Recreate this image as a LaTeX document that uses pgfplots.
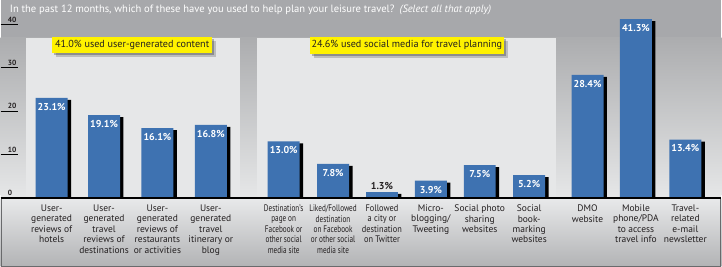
\documentclass[border=0pt]{standalone}
\usepackage{fontspec}
\setmainfont{PT Sans}
\newfontfamily\cndA{PT Sans}[FakeStretch=0.76]
\newfontfamily\cndB{PT Sans}[FakeStretch=0.88]
\usepackage{pgfplots}
\usepackage{pgfplotstable}
\pgfplotsset{compat=1.18}
\definecolor{barblue}{RGB}{62,114,177}
\definecolor{bgtop}{RGB}{167,168,171}
\definecolor{bgmid}{RGB}{172,173,175}
\definecolor{bgbot}{RGB}{229,230,231}
\definecolor{panel}{RGB}{230,231,232}
\definecolor{ylw}{RGB}{255,242,0}
\definecolor{lbltop}{RGB}{232,233,234}
\definecolor{lblbot}{RGB}{178,179,181}
\definecolor{txt}{RGB}{35,31,32}
\definecolor{frame}{RGB}{105,106,108}

\pgfplotstableread{
x v
51 23.1
103.5 19.1
157 16.1
210.5 16.8
283.5 13.0
333 7.8
382 1.3
431 3.9
480 7.5
529.5 5.2
588 28.4
636.5 41.3
686 13.4
}\alldata
\pgfplotstableread{
x v
51 23.1
103.5 19.1
157 16.1
210.5 16.8
283.5 13.0
333 7.8
431 3.9
480 7.5
529.5 5.2
588 28.4
636.5 41.3
686 13.4
}\tallbars
\pgfplotstableread{
x v
382 1.3
}\lowbar

\begin{document}
\begin{tikzpicture}[x=1pt,y=1pt]
% backgrounds (1 px = 1 pt; tikz y = 198 - pixel y)
\fill[bgtop] (0,-69) rectangle (722,198);
\shade[top color=bgmid, bottom color=bgbot] (0,2) rectangle (722,160);
\fill[bgbot] (0,0) rectangle (722,3);
\fill[panel] (25,0) rectangle (240,160.3);
\fill[panel] (257,0) rectangle (556,160.3);
\shade[top color=lbltop, bottom color=lblbot] (0,-69) rectangle (722,-1);
% callout boxes
\fill[black, opacity=0.18] (55.7,140.7) rectangle (215.7,157.3);
\fill[black, opacity=0.25] (53.7,142.7) rectangle (213.7,159.3);
\fill[ylw] (51.7,144.7) rectangle (211.7,161.3);
\node[font=\fontsize{10.2}{11}\selectfont, text=txt] at (131.7,153) {41.0\% used user-generated content};
\fill[black, opacity=0.18] (314,140) rectangle (508,157);
\fill[black, opacity=0.25] (312,142) rectangle (506,159);
\fill[ylw] (310,144) rectangle (504,161);
\node[font=\fontsize{10.2}{11}\selectfont, text=txt] at (407,152.5) {24.6\% used social media for travel planning};

\begin{axis}[
  at={(0,0)}, anchor=south west, scale only axis,
  width=722pt, height=198pt,
  xmin=0, xmax=722, ymin=0, ymax=45.727,
  axis line style={draw=none},
  ytick={0,10,20,30,40}, ytick pos=left, tick align=inside,
  major tick length=17pt,
  ytick style={draw=black, line width=1pt},
  yticklabel style={anchor=south west, inner sep=0pt, xshift=7pt, yshift=2pt,
    font=\fontsize{7.5}{8}\selectfont\bfseries, text=txt},
  /pgf/number format/assume math mode=true,
  xtick={51,103.5,157,210.5,283.5,333,382,431,480,529.5,588,636.5,686},
  xtick style={draw=none},
  xticklabels={
    {User-\\generated\\reviews of\\hotels},
    {User-\\generated\\travel\\reviews of\\destinations},
    {User-\\generated\\reviews of\\restaurants\\or activities},
    {User-\\generated\\travel\\itinerary or\\blog},
    {\cndA Destination’s\\\cndA page on\\\cndA Facebook or\\\cndA other social\\\cndA media site},
    {\cndA Liked/Followed\\\cndA destination\\\cndA on Facebook\\\cndA or other social\\\cndA media site},
    {\cndB Followed\\\cndB a city or\\\cndB destination\\\cndB on Twitter},
    {Micro-\\blogging/\\Tweeting},
    {Social photo\\sharing\\websites},
    {Social\\book-\\marking\\websites},
    {DMO\\website},
    {Mobile\\phone/PDA\\to access\\travel info},
    {Travel-\\related\\e-mail\\newsletter}},
  xticklabel style={anchor=north, align=center, inner sep=0pt, yshift=-7pt,
    font=\fontsize{9.5}{10.5}\selectfont, text=txt},
]
\addplot[ybar, bar width=32pt, bar shift=3.5pt, fill=black, draw=none, yshift=-2pt]
  table[x=x, y=v]{\alldata};
\addplot[ybar, bar width=32pt, bar shift=0pt, fill=barblue, draw=none,
  point meta=explicit,
  nodes near coords={\pgfmathprintnumber[fixed, fixed zerofill, precision=1, assume math mode=true]{\pgfplotspointmeta}\%},
  nodes near coords style={anchor=north, inner sep=0pt, yshift=-5pt, text=white,
    font=\fontsize{10}{11}\selectfont\bfseries}]
  table[x=x, y=v, meta=v]{\tallbars};
\addplot[ybar, bar width=32pt, bar shift=0pt, fill=barblue, draw=none,
  point meta=explicit,
  nodes near coords={\pgfmathprintnumber[fixed, fixed zerofill, precision=1, assume math mode=true]{\pgfplotspointmeta}\%},
  nodes near coords style={anchor=south, inner sep=0pt, yshift=2.5pt, text=txt,
    font=\fontsize{10}{11}\selectfont\bfseries}]
  table[x=x, y=v, meta=v]{\lowbar};
\end{axis}
% baseline and label-area frame
\draw[black, line width=1.5pt] (0,-0.25) -- (722,-0.25);
\draw[frame, line width=0.8pt] (0.4,-1) -- (0.4,-68.6) -- (721.6,-68.6) -- (721.6,-1);
% title
\node[anchor=base west, inner sep=0pt, text=white, font=\fontsize{10.6}{12}\selectfont]
  at (9,185) {In the past 12 months, which of these have you used to help plan your leisure travel?\hspace{0.5em}\textit{(Select all that apply)}};
\end{tikzpicture}
\end{document}
